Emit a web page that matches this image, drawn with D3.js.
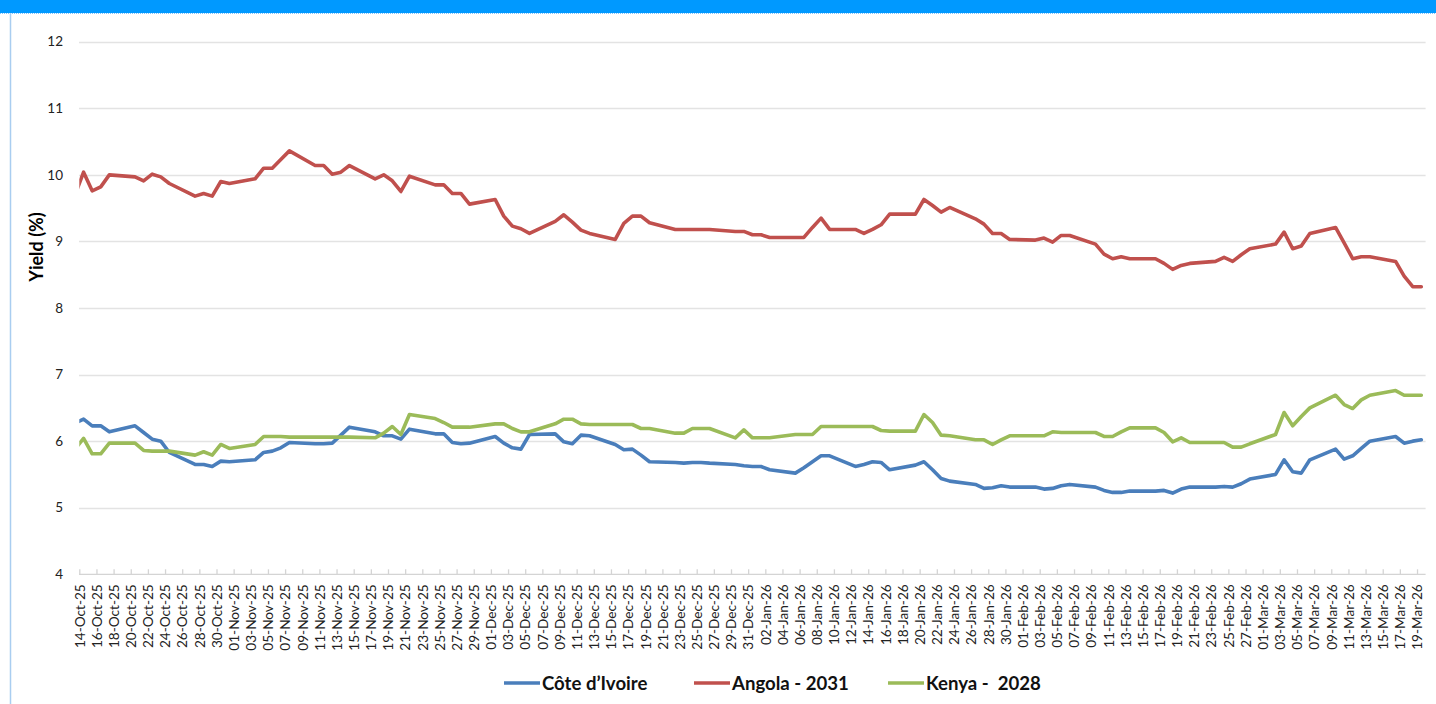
<!DOCTYPE html>
<html>
<head>
<meta charset="utf-8">
<script src="https://cdn.jsdelivr.net/npm/d3@7"></script>
<style>
body { margin: 0; background: #fff; }
svg { display: block; font-family: Lato, "Open Sans", sans-serif; }
</style>
</head>
<body>
<svg id="chart" width="1436" height="704"></svg>
<script>
// trading days (13-Oct is before the axis start, the line gets clipped there)
var dates = [
  "13-Oct-25","14-Oct-25","15-Oct-25","16-Oct-25","17-Oct-25","20-Oct-25","21-Oct-25","22-Oct-25","23-Oct-25","24-Oct-25","27-Oct-25","28-Oct-25","29-Oct-25","30-Oct-25","31-Oct-25",
  "03-Nov-25","04-Nov-25","05-Nov-25","06-Nov-25","07-Nov-25","10-Nov-25","11-Nov-25","12-Nov-25","13-Nov-25","14-Nov-25","17-Nov-25","18-Nov-25","19-Nov-25","20-Nov-25","21-Nov-25","24-Nov-25","25-Nov-25","26-Nov-25","27-Nov-25","28-Nov-25",
  "01-Dec-25","02-Dec-25","03-Dec-25","04-Dec-25","05-Dec-25","08-Dec-25","09-Dec-25","10-Dec-25","11-Dec-25","12-Dec-25","15-Dec-25","16-Dec-25","17-Dec-25","18-Dec-25","19-Dec-25","22-Dec-25","23-Dec-25","24-Dec-25","25-Dec-25","26-Dec-25","29-Dec-25","30-Dec-25","31-Dec-25",
  "01-Jan-26","02-Jan-26","05-Jan-26","06-Jan-26","07-Jan-26","08-Jan-26","09-Jan-26","12-Jan-26","13-Jan-26","14-Jan-26","15-Jan-26","16-Jan-26","19-Jan-26","20-Jan-26","21-Jan-26","22-Jan-26","23-Jan-26","26-Jan-26","27-Jan-26","28-Jan-26","29-Jan-26","30-Jan-26",
  "02-Feb-26","03-Feb-26","04-Feb-26","05-Feb-26","06-Feb-26","09-Feb-26","10-Feb-26","11-Feb-26","12-Feb-26","13-Feb-26","16-Feb-26","17-Feb-26","18-Feb-26","19-Feb-26","20-Feb-26","23-Feb-26","24-Feb-26","25-Feb-26","26-Feb-26","27-Feb-26",
  "02-Mar-26","03-Mar-26","04-Mar-26","05-Mar-26","06-Mar-26","09-Mar-26","10-Mar-26","11-Mar-26","12-Mar-26","13-Mar-26","16-Mar-26","17-Mar-26","18-Mar-26","19-Mar-26"
];

var coteDIvoire = [
  6.27,6.33,6.23,6.23,6.14,6.23,6.13,6.03,6.00,5.83,5.65,5.65,5.62,5.70,5.69,
  5.72,5.83,5.85,5.90,5.98,5.96,5.96,5.97,6.09,6.21,6.14,6.08,6.08,6.03,6.18,6.11,6.11,5.98,5.96,5.97,
  6.07,5.97,5.90,5.88,6.10,6.11,5.99,5.96,6.09,6.08,5.95,5.87,5.88,5.79,5.69,5.68,5.67,5.68,5.68,5.67,5.65,5.63,5.62,
  5.62,5.57,5.52,5.60,5.69,5.78,5.78,5.62,5.65,5.69,5.68,5.57,5.64,5.69,5.57,5.44,5.40,5.35,5.29,5.30,5.33,5.31,
  5.31,5.28,5.29,5.33,5.35,5.31,5.26,5.23,5.23,5.25,5.25,5.26,5.22,5.28,5.31,5.31,5.32,5.31,5.36,5.43,
  5.50,5.72,5.54,5.52,5.72,5.88,5.73,5.78,5.89,6.00,6.07,5.97,6.00,6.02
];

var angola2031 = [
  9.70,10.04,9.76,9.82,10.00,9.97,9.91,10.01,9.97,9.87,9.68,9.72,9.68,9.90,9.87,
  9.94,10.10,10.10,10.23,10.36,10.14,10.14,10.01,10.04,10.14,9.94,10.00,9.91,9.75,9.98,9.85,9.85,9.72,9.72,9.56,
  9.63,9.38,9.23,9.19,9.12,9.30,9.40,9.29,9.17,9.12,9.03,9.27,9.38,9.38,9.28,9.18,9.18,9.18,9.18,9.18,9.15,9.15,9.10,
  9.10,9.06,9.06,9.06,9.21,9.35,9.18,9.18,9.12,9.18,9.25,9.41,9.41,9.63,9.54,9.44,9.51,9.34,9.26,9.12,9.12,9.03,
  9.02,9.05,8.99,9.09,9.09,8.96,8.81,8.74,8.77,8.74,8.74,8.67,8.58,8.64,8.67,8.70,8.76,8.70,8.80,8.89,
  8.96,9.14,8.89,8.93,9.12,9.21,8.98,8.74,8.77,8.77,8.70,8.48,8.32,8.32
];

var kenya2028 = [
  5.88,6.04,5.81,5.81,5.97,5.97,5.86,5.85,5.85,5.85,5.79,5.84,5.79,5.95,5.89,
  5.95,6.07,6.07,6.07,6.06,6.06,6.06,6.06,6.06,6.06,6.05,6.12,6.22,6.10,6.40,6.34,6.28,6.21,6.21,6.21,
  6.26,6.26,6.19,6.14,6.14,6.26,6.33,6.33,6.26,6.25,6.25,6.25,6.25,6.19,6.19,6.12,6.12,6.19,6.19,6.19,6.05,6.17,6.05,
  6.05,6.05,6.10,6.10,6.10,6.22,6.22,6.22,6.22,6.22,6.16,6.15,6.15,6.40,6.28,6.09,6.08,6.02,6.02,5.95,6.02,6.08,
  6.08,6.08,6.14,6.13,6.13,6.13,6.07,6.07,6.14,6.20,6.20,6.13,5.99,6.05,5.98,5.98,5.98,5.91,5.91,5.96,
  6.10,6.43,6.23,6.37,6.50,6.69,6.55,6.49,6.62,6.69,6.76,6.69,6.69,6.69
];

var seriesNames = ["Côte d\u2019Ivoire", "Angola - 2031", "Kenya -  2028"];
var seriesColors = ["#4a7ebb", "#c0504d", "#9bbb59"];
var yTicks = [4, 5, 6, 7, 8, 9, 10, 11, 12];
var axisStart = "14-Oct-25", axisEnd = "20-Mar-26";

var parse = d3.timeParse("%d-%b-%y");
var fmt = d3.timeFormat("%d-%b-%y");
var svg = d3.select("#chart");

// frame: blue strip on top, thin border left
svg.append("rect").attr("x", 0).attr("y", 0).attr("width", 1436).attr("height", 13).attr("fill", "#0099ff");
svg.append("line").attr("x1", 0).attr("x2", 1436).attr("y1", 13.5).attr("y2", 13.5)
  .attr("stroke", "#7cc4ff").attr("stroke-dasharray", "1,1");
svg.append("line").attr("x1", 10.5).attr("x2", 10.5).attr("y1", 13).attr("y2", 704)
  .attr("stroke", "#a9cdf0").attr("stroke-width", 1.5);

var x = d3.scaleTime().domain([parse(axisStart), parse(axisEnd)]).range([79.3, 1425.6]);
var y = d3.scaleLinear().domain([4, 12]).range([574.3, 41.7]);

// grid
svg.append("g").selectAll("line").data(yTicks.slice(1)).enter().append("line")
  .attr("x1", 79).attr("x2", 1425.6)
  .attr("y1", function (d) { return Math.round(y(d)) + 0.5; })
  .attr("y2", function (d) { return Math.round(y(d)) + 0.5; })
  .attr("stroke", "#e3e3e3").attr("stroke-width", 1.3);

// y labels
svg.append("g").selectAll("text").data(yTicks).enter().append("text")
  .attr("x", 63).attr("y", function (d) { return y(d); })
  .attr("dy", "0.35em").attr("text-anchor", "end")
  .attr("font-size", 13.5).attr("fill", "#222")
  .text(function (d) { return d; });

svg.append("text")
  .attr("transform", "translate(43,247) rotate(-90)")
  .attr("text-anchor", "middle").attr("font-size", 18).attr("font-weight", "bold").attr("fill", "#000")
  .text("Yield (%)");

// x axis with a tick every two days
var allDays = d3.timeDay.range(parse(axisStart), parse(axisEnd));
var tickDays = allDays.filter(function (d, i) { return i % 2 === 0; });

var xAxis = d3.axisBottom(x).tickValues(tickDays).tickFormat(fmt).tickSizeInner(-5).tickSizeOuter(0).tickPadding(0);
var gx = svg.append("g").attr("transform", "translate(0,574.3)").call(xAxis);
gx.select(".domain").attr("stroke", "#d4d4d4").attr("stroke-width", 1.3).attr("d", "M79,0H1425.6");
gx.selectAll(".tick line").attr("stroke", "#d4d4d4").attr("stroke-width", 1.3);
gx.selectAll(".tick text")
  .attr("transform", "rotate(-90)")
  .attr("text-anchor", "end")
  .attr("x", -10).attr("y", 0).attr("dy", "0.35em")
  .attr("font-size", 13.6).attr("fill", "#222")
  .style("font-family", "Lato, 'Open Sans', sans-serif");

// lines
svg.append("clipPath").attr("id", "plotclip").append("rect")
  .attr("x", 79.3).attr("y", 0).attr("width", 1425.6 - 79.3).attr("height", 704);

var days = dates.map(function (s) { return d3.timeHour.offset(parse(s), 12); });
var line = d3.line()
  .x(function (d, i) { return x(days[i]); })
  .y(function (d) { return y(d); });

var allSeries = [coteDIvoire, angola2031, kenya2028];
var gLines = svg.append("g").attr("clip-path", "url(#plotclip)");
allSeries.forEach(function (vals, k) {
  gLines.append("path").datum(vals)
    .attr("d", line)
    .attr("fill", "none")
    .attr("stroke", seriesColors[k])
    .attr("stroke-width", 3.6)
    .attr("stroke-linejoin", "round")
    .attr("stroke-linecap", "round");
});

// legend
var legendX = [504, 694, 888];
var leg = svg.append("g");
seriesNames.forEach(function (name, k) {
  leg.append("line")
    .attr("x1", legendX[k]).attr("x2", legendX[k] + 36)
    .attr("y1", 683).attr("y2", 683)
    .attr("stroke", seriesColors[k]).attr("stroke-width", 3.6);
  leg.append("text")
    .attr("x", legendX[k] + 38).attr("y", 683).attr("dy", "0.35em")
    .attr("font-size", 18.6).attr("font-weight", "bold").attr("fill", "#111")
    .style("white-space", "pre")
    .text(name);
});
</script>
</body>
</html>
